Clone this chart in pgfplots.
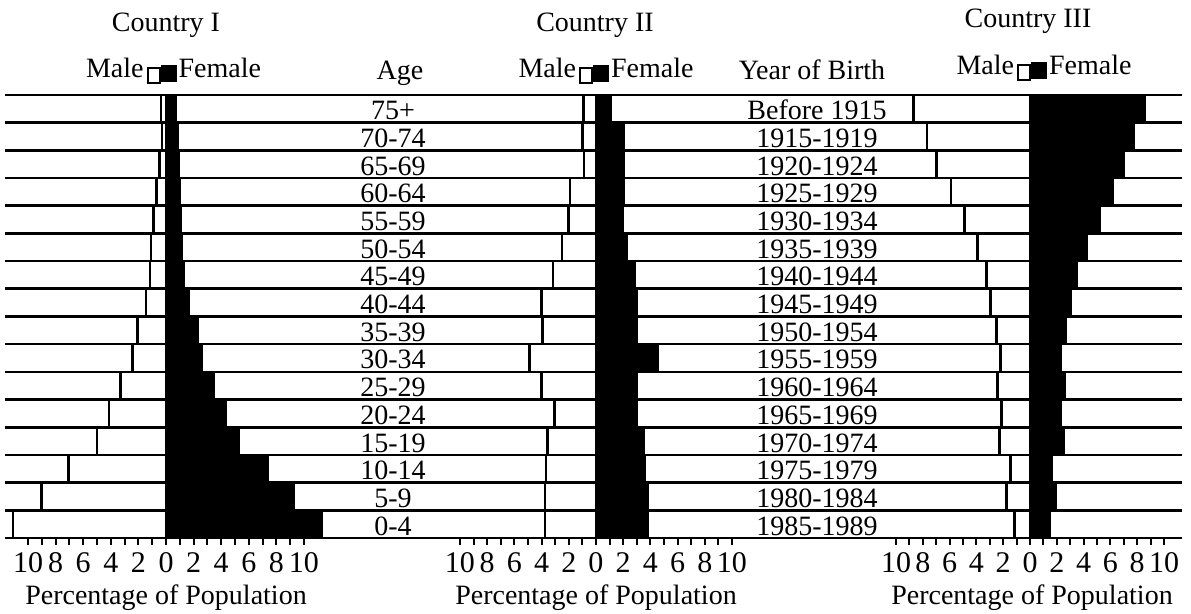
\documentclass[border=0pt]{standalone}
\usepackage{pgfplots}
\pgfplotsset{compat=1.18}
\usepackage{pgfplotstable}
\usepackage{fontspec}
\setmainfont{Liberation Serif}

% row 1 = youngest (bottom), row 16 = oldest (top); male values stored negative
\pgfplotstableread{
row  m1     f1     m2     f2     m3     f3
1   -11.08  11.25  -3.75  3.78  -1.17  1.44
2   -9.04   9.28   -3.75  3.78  -1.74  1.89
3   -7.06   7.35   -3.66  3.56  -1.47  1.60
4   -4.99   5.25   -3.56  3.50  -2.30  2.50
5   -4.14   4.29   -3.04  3.00  -2.14  2.30
6   -3.30   3.45   -4.00  3.00  -2.45  2.60
7   -2.41   2.58   -4.90  4.56  -2.20  2.30
8   -2.05   2.27   -3.95  3.00  -2.50  2.68
9   -1.45   1.61   -4.00  3.00  -2.96  3.06
10  -1.16   1.25   -3.15  2.82  -3.25  3.50
11  -1.08   1.16   -2.50  2.28  -3.90  4.20
12  -0.92   1.08   -2.00  1.96  -4.90  5.20
13  -0.67   0.96   -1.90  2.04  -5.90  6.20
14  -0.48   0.92   -0.88  2.06  -7.00  7.00
15  -0.30   0.85   -0.98  2.06  -7.70  7.70
16  -0.36   0.72   -0.90  1.10  -8.70  8.52
}\data

\pgfplotsset{
  pyr/.style={
    scale only axis, height=221.5pt, anchor=south west,
    ymin=0.5, ymax=16.5,
    ytick={0.5,1.5,...,16.5}, yticklabels={}, ytick style={draw=none},
    ymajorgrids, grid style={black, line width=1.3pt},
    axis line style={draw=none},
    xtick={-10,...,10},
    xticklabels={10,,8,,6,,4,,2,,0,,2,,4,,6,,8,,10},
    xtick pos=bottom, tick align=outside,
    major tick length=3.5pt,
    xtick style={black, line width=1pt},
    xticklabel style={font=\fontsize{15}{17}\selectfont, anchor=base, yshift=-14pt},
    /pgf/number format/assume math mode=true,
    clip=false,
  },
  male/.style={xbar, bar width=1, bar shift=0pt, fill=white, draw=black, line width=1.3pt},
  female/.style={xbar, bar width=1, bar shift=0pt, fill=black, draw=black, line width=1.3pt},
}

\newcommand\legbox{\raisebox{-2pt}{\setlength\fboxsep{0pt}\setlength\fboxrule{1pt}\fbox{\rule{0pt}{6.5pt}\hspace{5pt}}}\raisebox{-2pt}{\rule{8pt}{8.5pt}}}

\begin{document}
\begin{tikzpicture}[font=\fontsize{14}{16}\selectfont]
\useasboundingbox (0,0) rectangle (595.5pt,307pt);

\begin{axis}[pyr, at={(2.5pt,38pt)}, width=220pt, xmin=-11.67, xmax=20.22]
  \addplot[male] table[x=m1, y=row] {\data};
  \addplot[female] table[x=f1, y=row] {\data};
\end{axis}

\begin{axis}[pyr, at={(222.5pt,38pt)}, width=222.5pt, xmin=-11.10, xmax=21.62]
  \addplot[male] table[x=m2, y=row] {\data};
  \addplot[female] table[x=f2, y=row] {\data};
\end{axis}

\begin{axis}[pyr, at={(445pt,38pt)}, width=146pt, xmin=-10.45, xmax=11.34]
  \addplot[male] table[x=m3, y=row] {\data};
  \addplot[female] table[x=f3, y=row] {\data};
\end{axis}

% row labels
\foreach \lab [count=\i] in {75+,70-74,65-69,60-64,55-59,50-54,45-49,40-44,35-39,30-34,25-29,20-24,15-19,10-14,5-9,0-4}
  \node[anchor=base, inner sep=0pt] at ({196.5pt},{(261-13.85*\i)*1pt}) {\lab};
\foreach \lab [count=\i] in {Before 1915,1915-1919,1920-1924,1925-1929,1930-1934,1935-1939,1940-1944,1945-1949,1950-1954,1955-1959,1960-1964,1965-1969,1970-1974,1975-1979,1980-1984,1985-1989}
  \node[anchor=base, inner sep=0pt] at ({408.5pt},{(261-13.85*\i)*1pt}) {\lab};

% headers
\node[anchor=base, inner sep=0pt] at (83pt,291pt) {Country I};
\node[anchor=base, inner sep=0pt] at (297.5pt,291pt) {Country II};
\node[anchor=base, inner sep=0pt] at (514pt,293pt) {Country III};

\node[anchor=base, inner sep=0pt] at (86.75pt,268pt) {Male\hspace{1.5pt}\legbox\hspace{1pt}Female};
\node[anchor=base, inner sep=0pt] at (303pt,268pt) {Male\hspace{1.5pt}\legbox\hspace{1pt}Female};
\node[anchor=base, inner sep=0pt] at (522pt,269.5pt) {Male\hspace{1.5pt}\legbox\hspace{1pt}Female};

\node[anchor=base, inner sep=0pt] at (200pt,267pt) {Age};
\node[anchor=base, inner sep=0pt] at (406pt,267pt) {Year of Birth};

% axis titles
\node[anchor=base, inner sep=0pt] at (83pt,4.5pt) {Percentage of Population};
\node[anchor=base, inner sep=0pt] at (298pt,4.5pt) {Percentage of Population};
\node[anchor=base, inner sep=0pt] at (516pt,4.5pt) {Percentage of Population};
\end{tikzpicture}
\end{document}
